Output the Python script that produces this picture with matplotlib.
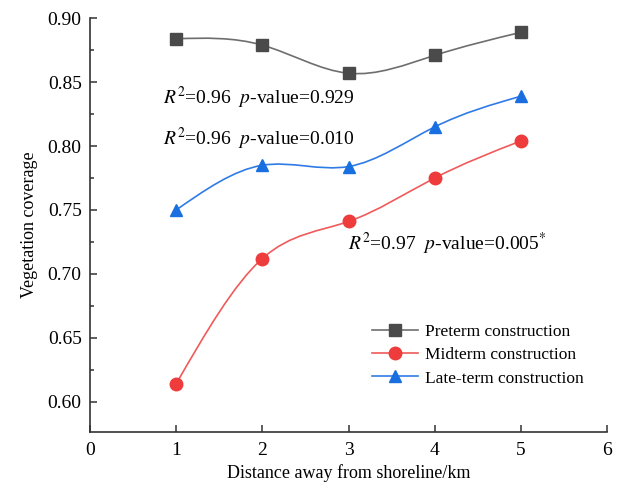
import matplotlib
matplotlib.use("Agg")
import matplotlib.pyplot as plt
import numpy as np
from matplotlib.path import Path
from matplotlib.patches import PathPatch
from matplotlib.lines import Line2D
from matplotlib.ticker import MultipleLocator, FormatStrFormatter

distance = [1, 2, 3, 4, 5]
preterm = [0.884, 0.879, 0.857, 0.871, 0.889]
midterm = [0.614, 0.712, 0.741, 0.775, 0.804]
lateterm = [0.750, 0.785, 0.784, 0.815, 0.839]

series_names = ["Preterm construction", "Midterm construction", "Late-term construction"]
annotations = [
    r"$R^2$=0.96  $p$-value=0.929",
    r"$R^2$=0.96  $p$-value=0.010",
    r"$R^2$=0.97  $p$-value=0.005$^{*}$",
]

plt.rcParams["font.family"] = ["Liberation Serif", "DejaVu Serif"]
plt.rcParams["mathtext.fontset"] = "stix"


def spline_path(x, y):
    # natural cubic spline written as bezier segments
    x = np.asarray(x, float)
    y = np.asarray(y, float)
    n = len(x)
    h = np.diff(x)
    A = np.zeros((n, n))
    b = np.zeros(n)
    A[0, 0], A[0, 1] = 2 / h[0], 1 / h[0]
    b[0] = 3 * (y[1] - y[0]) / h[0] ** 2
    for i in range(1, n - 1):
        A[i, i - 1] = 1 / h[i - 1]
        A[i, i] = 2 / h[i - 1] + 2 / h[i]
        A[i, i + 1] = 1 / h[i]
        b[i] = 3 * ((y[i] - y[i - 1]) / h[i - 1] ** 2 + (y[i + 1] - y[i]) / h[i] ** 2)
    A[-1, -2], A[-1, -1] = 1 / h[-1], 2 / h[-1]
    b[-1] = 3 * (y[-1] - y[-2]) / h[-1] ** 2
    m = np.linalg.solve(A, b)
    verts = [(x[0], y[0])]
    codes = [Path.MOVETO]
    for i in range(n - 1):
        verts += [
            (x[i] + h[i] / 3, y[i] + m[i] * h[i] / 3),
            (x[i + 1] - h[i] / 3, y[i + 1] - m[i + 1] * h[i] / 3),
            (x[i + 1], y[i + 1]),
        ]
        codes += [Path.CURVE4] * 3
    return Path(verts, codes)


fig = plt.figure(figsize=(6.22, 4.88), dpi=100)
ax = fig.add_axes([0.1447, 0.1148, 0.8312, 0.8477])

styles = [
    dict(color="#6e6e6e", mfc="#4a4a4a", marker="s", ms=8),
    dict(color="#f05a5a", mfc="#ee3b3b", marker="o", ms=9),
    dict(color="#2f7be6", mfc="#1a6fe0", marker="^", ms=9),
]

handles = []
for values, name, st in zip([preterm, midterm, lateterm], series_names, styles):
    ax.add_patch(PathPatch(spline_path(distance, values), fill=False,
                           edgecolor=st["color"], lw=1.2, zorder=2))
    ax.plot(distance, values, linestyle="none", marker=st["marker"], ms=st["ms"],
            mfc=st["mfc"], mec=st["mfc"], zorder=3)
    handles.append(Line2D([], [], color=st["color"], lw=1.2, marker=st["marker"],
                          ms=st["ms"], mfc=st["mfc"], mec=st["mfc"], label=name))

ax.text(0.85, 0.838, annotations[0], fontsize=14, va="center", ha="left")
ax.text(0.85, 0.8056, annotations[1], fontsize=14, va="center", ha="left")
ax.text(2.99, 0.7235, annotations[2], fontsize=14, va="center", ha="left")

ax.set_xlim(0, 6)
ax.set_ylim(0.5763, 0.90)
ax.xaxis.set_major_locator(MultipleLocator(1))
ax.yaxis.set_minor_locator(MultipleLocator(0.025))
ax.set_yticks(np.arange(0.60, 0.901, 0.05))
ax.yaxis.set_major_formatter(FormatStrFormatter("%.2f"))

for side in ["top", "right"]:
    ax.spines[side].set_visible(False)
for side in ["left", "bottom"]:
    ax.spines[side].set_color("#333333")
    ax.spines[side].set_linewidth(1.2)

ax.tick_params(axis="both", which="major", direction="in", length=5, width=1.1,
               color="#333333", labelsize=14)
ax.tick_params(axis="y", which="major", pad=6)
ax.tick_params(axis="x", which="major", pad=7)
ax.tick_params(axis="y", which="minor", direction="in", length=3, width=1.1, color="#333333")

ax.set_xlabel("Distance away from shoreline/km", fontsize=13, labelpad=4)
ax.set_ylabel("Vegetation coverage", fontsize=13, labelpad=7)

ax.legend(handles=handles, loc="upper left", bbox_to_anchor=(0.515, 0.30), frameon=False,
          fontsize=12.5, handlelength=2.65, labelspacing=0.42, handletextpad=0.4)

fig.savefig("out.png", dpi=100, facecolor="white")
